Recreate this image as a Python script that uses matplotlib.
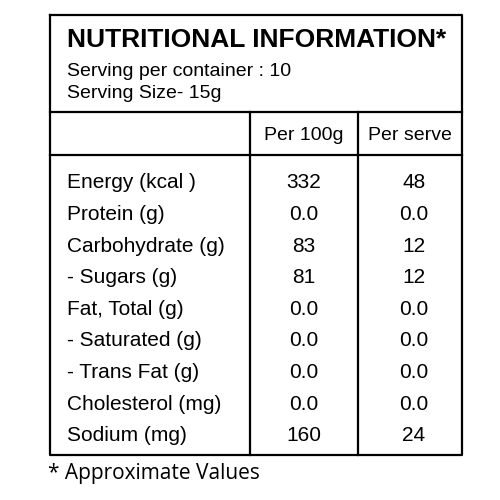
import matplotlib
matplotlib.use("Agg")
import matplotlib.pyplot as plt

nutrients = ["Energy (kcal )", "Protein (g)", "Carbohydrate (g)", "- Sugars (g)", "Fat, Total (g)",
             "- Saturated (g)", "- Trans Fat (g)", "Cholesterol (mg)", "Sodium (mg)"]
per_100g = ["332", "0.0", "83", "81", "0.0", "0.0", "0.0", "0.0", "160"]
per_serve = ["48", "0.0", "12", "12", "0.0", "0.0", "0.0", "0.0", "24"]
col_headers = ["Per 100g", "Per serve"]

fam = ["Liberation Sans Narrow", "Liberation Sans", "DejaVu Sans"]
fig = plt.figure(figsize=(5, 5), dpi=100)
ax = fig.add_axes([0, 0, 1, 1])
ax.set_xlim(0, 500); ax.set_ylim(500, 0); ax.axis("off")

lw = 1.6
ax.plot([50, 462, 462, 50, 50], [15, 15, 455, 455, 15], color="black", lw=lw)
ax.plot([50, 462], [112, 112], color="black", lw=lw)
ax.plot([50, 462], [155, 155], color="black", lw=lw)
for x in [250, 358]:
    ax.plot([x, x], [112, 455], color="black", lw=lw)

ax.text(67, 40, "NUTRITIONAL INFORMATION*", fontsize=19, fontweight="bold", family=fam, va="center")
ax.text(67, 72, "Serving per container : 10", fontsize=14, family=fam, va="center")
ax.text(67, 94, "Serving Size- 15g", fontsize=14, family=fam, va="center")
ax.text(304, 135, col_headers[0], fontsize=14, family=fam, va="center", ha="center")
ax.text(410, 135, col_headers[1], fontsize=14, family=fam, va="center", ha="center")

y0, dy = 183, 31.6
for i, (n, a, b) in enumerate(zip(nutrients, per_100g, per_serve)):
    y = y0 + i * dy
    ax.text(67, y, n, fontsize=15, family=fam, va="center")
    ax.text(304, y, a, fontsize=15, family=fam, va="center", ha="center")
    ax.text(414, y, b, fontsize=15, family=fam, va="center", ha="center")

ax.text(48, 474, "* Approximate Values", fontsize=15, family=["Open Sans", "DejaVu Sans"], va="center")
fig.savefig("out.png", dpi=100)
